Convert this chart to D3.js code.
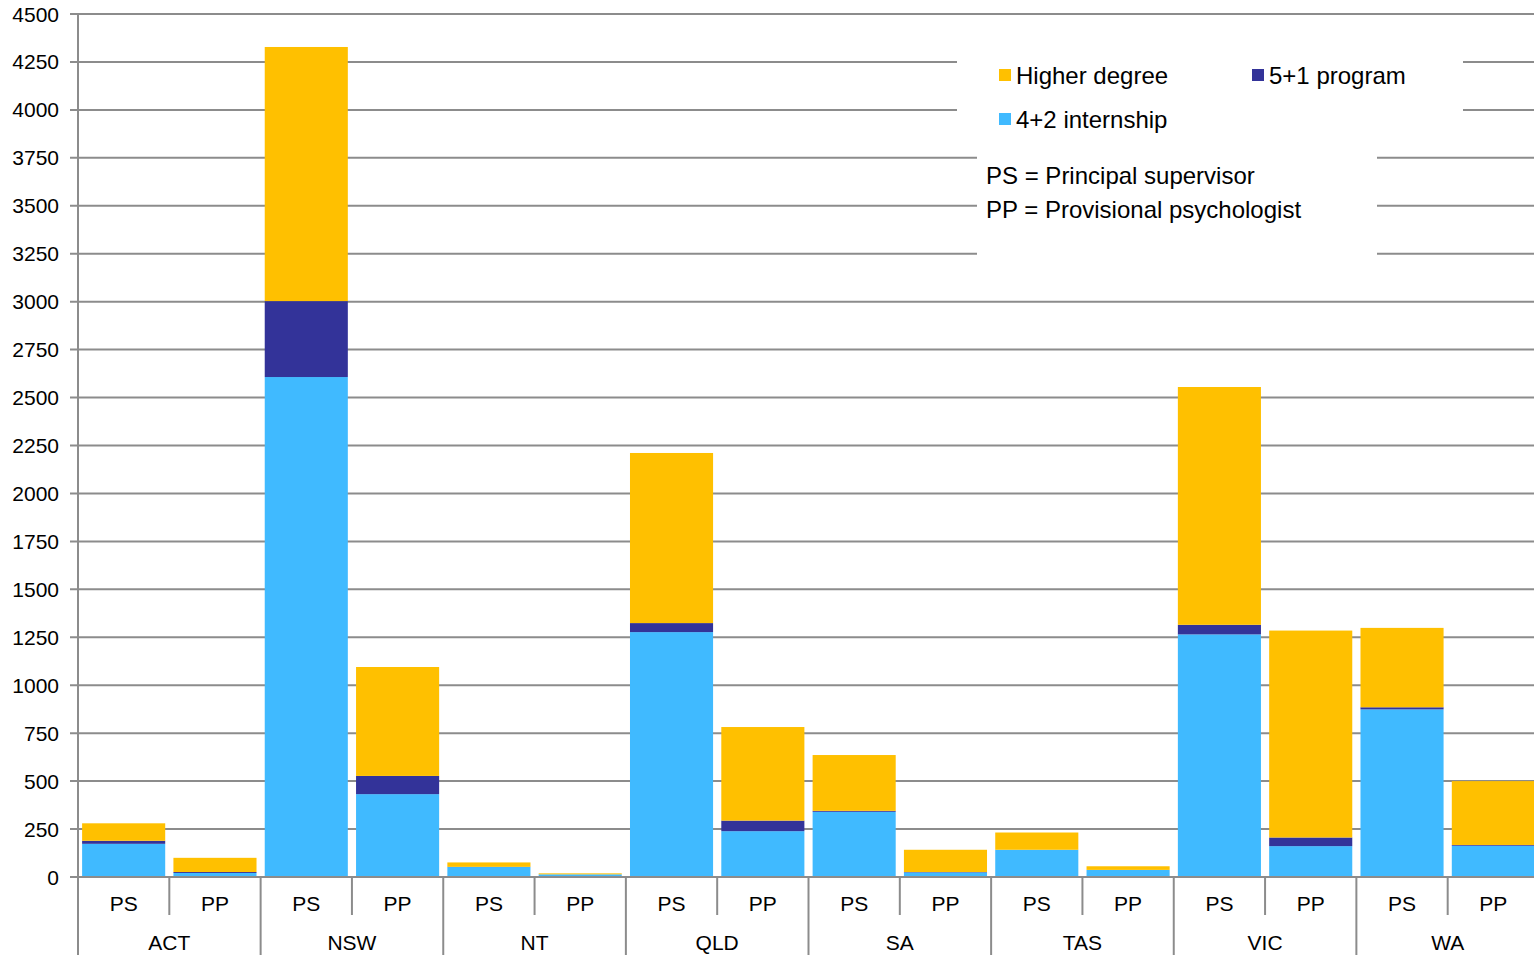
<!DOCTYPE html>
<html><head><meta charset="utf-8">
<script src="https://cdn.jsdelivr.net/npm/d3@7"></script>
<style>html,body{margin:0;padding:0;background:#fff;overflow:hidden}text{font-family:"Liberation Sans",Arial,sans-serif;fill:#000}</style>
</head><body>
<svg id="c" width="1534" height="955"></svg>
<script>
const states = ["ACT","NSW","NT","QLD","SA","TAS","VIC","WA"];
const roles = ["PS","PP"];
const seriesNames = ["4+2 internship","5+1 program","Higher degree"];
// values per state/role in order ACT PS, ACT PP, NSW PS, NSW PP, ...
const internship = [173,21, 2607,432, 52,14, 1277,239, 340,24, 142,37, 1265,161, 874,163];
const program51  = [16,5,   396,95,   1,0,   47,55,    5,2,    0,0,    50,45,    11,4];
const higher     = [91,74,  1325,568, 23,5,  887,488,  291,116, 90,19,  1240,1079, 414,333];
const yTicks = [0,250,500,750,1000,1250,1500,1750,2000,2250,2500,2750,3000,3250,3500,3750,4000,4250,4500];
const colors = ["#40BAFF","#333399","#FFC000"];

const svg = d3.select("#c");
const x0 = 78, x1 = 1539, yTop = 14, yBot = 877;
const y = d3.scaleLinear().domain([0,4500]).range([yBot,yTop]);
const gx = d3.scaleBand().domain(states).range([x0,x1]);
const sx = d3.scaleBand().domain(roles).range([0,gx.bandwidth()]).paddingInner(0.09).paddingOuter(0.045);

const rows = [];
states.forEach((s,i)=>roles.forEach((r,j)=>{const k=i*2+j;rows.push({state:s,role:r,"4+2 internship":internship[k],"5+1 program":program51[k],"Higher degree":higher[k]});}));
const stack = d3.stack().keys(seriesNames)(rows);

// gridlines
const grid = svg.append("g");
grid.selectAll("line").data(yTicks).join("line")
  .attr("x1",x0-8).attr("x2",1534).attr("y1",d=>y(d)).attr("y2",d=>y(d))
  .attr("stroke","#8c8c8c").attr("stroke-width",2);

// bars
svg.append("g").selectAll("g").data(stack).join("g").attr("fill",(d,i)=>colors[i])
  .selectAll("rect").data(d=>d).join("rect")
  .attr("x",d=>gx(d.data.state)+sx(d.data.role))
  .attr("width",sx.bandwidth())
  .attr("y",d=>y(d[1]))
  .attr("height",d=>Math.max(0,y(d[0])-y(d[1])));

// y axis labels
svg.append("g").selectAll("text").data(yTicks).join("text")
  .attr("x",59).attr("y",d=>y(d)+7.5).attr("text-anchor","end").attr("font-size",21).text(d=>d);

// axis lines
const ax = svg.append("g").attr("stroke","#8c8c8c").attr("stroke-width",2);
ax.append("line").attr("x1",x0).attr("x2",x0).attr("y1",yTop).attr("y2",955);
ax.append("line").attr("x1",x0).attr("x2",1534).attr("y1",yBot).attr("y2",yBot);
states.forEach(s=>{
  const gs = gx(s);
  ax.append("line").attr("x1",gs).attr("x2",gs).attr("y1",yBot).attr("y2",955);
  const mid = gs + gx.bandwidth()/2;
  ax.append("line").attr("x1",mid).attr("x2",mid).attr("y1",yBot).attr("y2",915);
});

// category labels
const lab = svg.append("g");
rows.forEach(d=>{
  lab.append("text").attr("x",gx(d.state)+sx(d.role)+sx.bandwidth()/2).attr("y",911)
    .attr("text-anchor","middle").attr("font-size",21).text(d.role);
});
states.forEach(s=>{
  lab.append("text").attr("x",gx(s)+gx.bandwidth()/2).attr("y",950)
    .attr("text-anchor","middle").attr("font-size",21).text(s);
});

// legend boxes
svg.append("rect").attr("x",957).attr("y",40).attr("width",506).attr("height",96).attr("fill","#fff");
svg.append("rect").attr("x",977).attr("y",140).attr("width",400).attr("height",116).attr("fill","#fff");
const leg = [
  {name:"Higher degree",c:2,x:999,y:75},
  {name:"5+1 program",c:1,x:1252,y:75},
  {name:"4+2 internship",c:0,x:999,y:119}
];
leg.forEach(l=>{
  svg.append("rect").attr("x",l.x).attr("y",l.y-6).attr("width",12).attr("height",12).attr("fill",colors[l.c]);
  svg.append("text").attr("x",l.x+17).attr("y",l.y+8.5).attr("font-size",24).text(l.name);
});
svg.append("text").attr("x",986).attr("y",183.5).attr("font-size",24).text("PS = Principal supervisor");
svg.append("text").attr("x",986).attr("y",217.5).attr("font-size",24).text("PP = Provisional psychologist");
</script>
</body></html>
